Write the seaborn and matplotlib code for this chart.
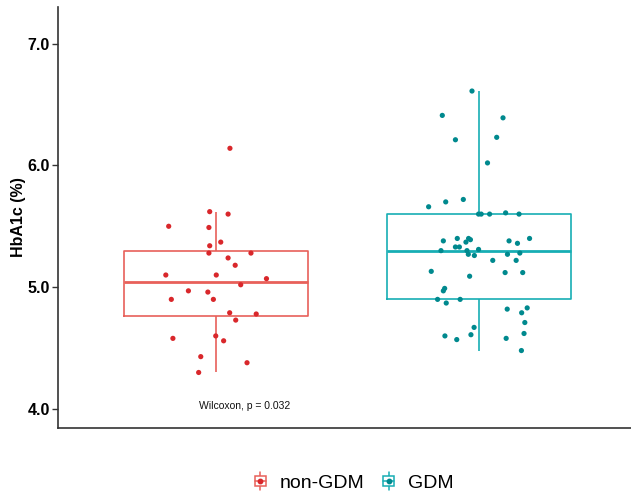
import numpy as np
import pandas as pd
import matplotlib
matplotlib.use("Agg")
import matplotlib.pyplot as plt
import matplotlib.patches as mpatches
from matplotlib.lines import Line2D
from matplotlib.legend_handler import HandlerBase
import seaborn as sns

# groups and colours
groups = ["non-GDM", "GDM"]
box_colors = {"non-GDM": "#E8605A", "GDM": "#17AEB4"}
point_colors = {"non-GDM": "#D9272B", "GDM": "#00898E"}

# HbA1c values, with the horizontal jitter of each dot
non_gdm_hba1c = [6.14, 5.62, 5.60, 5.50, 5.49, 5.37, 5.34, 5.28, 5.28, 5.24,
                 5.18, 5.10, 5.10, 5.07, 5.02, 4.97, 4.96, 4.90, 4.90, 4.79,
                 4.78, 4.73, 4.58, 4.60, 4.56, 4.43, 4.38, 4.30]
non_gdm_jitter = [0.054, -0.023, 0.047, -0.179, -0.026, 0.019, -0.023, -0.026, 0.134, 0.047,
                  0.074, -0.190, 0.002, 0.193, 0.095, -0.104, -0.030, -0.169, -0.009, 0.053,
                  0.154, 0.076, -0.163, 0.000, 0.030, -0.057, 0.119, -0.065]

gdm_hba1c = [6.61, 6.41, 6.39, 6.21, 6.23, 6.02, 5.66, 5.70, 5.72, 5.60,
             5.60, 5.60, 5.61, 5.60, 5.38, 5.40, 5.40, 5.39, 5.37, 5.33,
             5.33, 5.30, 5.31, 5.30, 5.27, 5.26, 5.38, 5.36, 5.40, 5.27,
             5.28, 5.22, 5.22, 5.13, 5.09, 5.12, 5.12, 4.99, 4.97, 4.90,
             4.90, 4.87, 4.82, 4.79, 4.83, 4.71, 4.67, 4.61, 4.60, 4.57,
             4.58, 4.62, 4.48]
gdm_jitter = [-0.025, -0.138, 0.093, -0.088, 0.069, 0.034, -0.190, -0.125, -0.058, 0.000,
              0.010, 0.042, 0.103, 0.154, -0.134, -0.081, -0.038, -0.031, -0.048, -0.088,
              -0.073, -0.044, 0.000, -0.143, -0.039, -0.016, 0.116, 0.148, 0.194, 0.110,
              0.157, 0.054, 0.143, -0.180, -0.034, 0.101, 0.168, -0.129, -0.134, -0.156,
              -0.070, -0.123, 0.109, 0.164, 0.185, 0.176, -0.017, -0.029, -0.128, -0.083,
              0.105, 0.173, 0.163]

y_ticks = [4.0, 5.0, 6.0, 7.0]
p_label = "Wilcoxon, p = 0.032"

df = pd.DataFrame({
    "group": ["non-GDM"] * len(non_gdm_hba1c) + ["GDM"] * len(gdm_hba1c),
    "hba1c": non_gdm_hba1c + gdm_hba1c,
    "jitter": non_gdm_jitter + gdm_jitter,
})
df["xpos"] = df["group"].map({g: i for i, g in enumerate(groups)}) + df["jitter"]


class BoxKey(HandlerBase):
    # small boxplot glyph like ggplot's legend key
    def create_artists(self, legend, orig_handle, xdescent, ydescent,
                       width, height, fontsize, trans):
        c, pc = orig_handle
        cx = width / 2 - xdescent
        h = height * 1.3
        y0 = (height - h) / 2 - ydescent
        bw = width * 0.75
        whisk = Line2D([cx, cx], [y0, y0 + h], color=c, lw=1.1)
        rect = mpatches.Rectangle((cx - bw / 2, y0 + h * 0.22), bw, h * 0.56,
                                  facecolor="white", edgecolor=c, lw=1.1)
        med = Line2D([cx - bw / 2, cx + bw / 2], [y0 + h / 2] * 2, color=c, lw=1.1)
        dot = Line2D([cx], [y0 + h / 2], marker="o", markersize=3.2,
                     color=pc, linestyle="none")
        arts = [whisk, rect, med, dot]
        for a in arts:
            a.set_transform(trans)
        return arts


sns.set_style("white")
plt.rcParams["font.family"] = ["Liberation Sans", "DejaVu Sans"]
plt.rcParams["text.color"] = "black"

fig = plt.figure(figsize=(6.31, 4.97), dpi=100)
ax = fig.add_axes([0.092, 0.139, 0.908, 0.847])

sns.boxplot(data=df, x="group", y="hba1c", hue="group", order=groups,
            palette=box_colors, fill=False, width=0.7, showfliers=False,
            showcaps=False, linewidth=1.2, legend=False,
            medianprops=dict(linewidth=2.0), ax=ax)

for g in groups:
    sub = df[df["group"] == g]
    sns.scatterplot(data=sub, x="xpos", y="hba1c", color=point_colors[g],
                    s=14, edgecolor="none", ax=ax, zorder=3)

ax.text(0.108, 4.025, p_label, ha="center", va="center", fontsize=7.5,
        color="#111111")

ax.set_xlim(-0.6, 1.58)
ax.set_ylim(3.845, 7.30)
ax.set_yticks(y_ticks)
ax.set_yticklabels([f"{t:.1f}" for t in y_ticks], fontweight="bold", fontsize=11.5,
                   color="black")
ax.set_xticks([])
ax.set_xlabel("")
ax.set_ylabel("HbA1c (%)", fontsize=11.5, fontweight="bold", labelpad=1,
              color="black")
ax.tick_params(axis="y", direction="out", length=4, width=1, color="#333333",
               left=True, pad=2)
for side in ["top", "right"]:
    ax.spines[side].set_visible(False)
for side in ["left", "bottom"]:
    ax.spines[side].set_color("#333333")
    ax.spines[side].set_linewidth(1.2)

handles = [(box_colors[g], point_colors[g]) for g in groups]
fig.legend(handles, groups, handler_map={tuple: BoxKey()},
           loc="center", bbox_to_anchor=(0.56, 0.028), ncol=2, frameon=False,
           fontsize=14, handlelength=0.75, handleheight=0.7, handletextpad=0.6,
           columnspacing=0.9, labelcolor="black")

fig.savefig("out.png", dpi=100)
